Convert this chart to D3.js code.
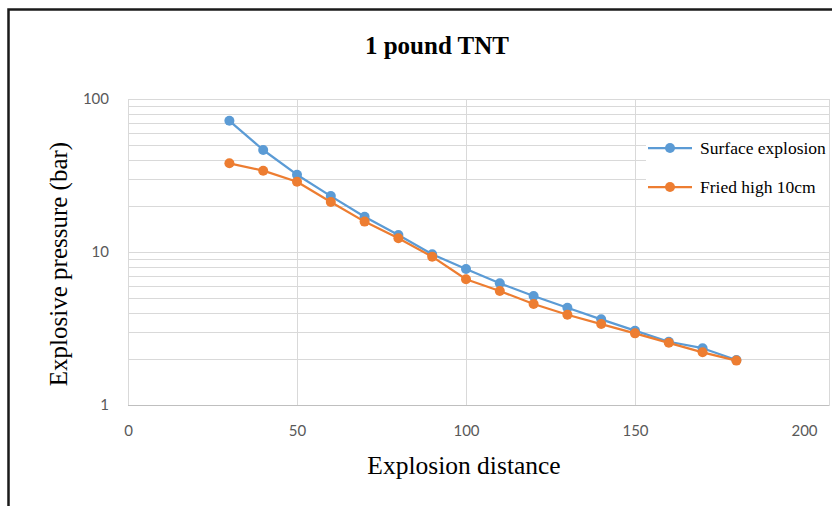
<!DOCTYPE html>
<html>
<head>
<meta charset="utf-8">
<script src="https://cdn.jsdelivr.net/npm/d3@7"></script>
<style>
  html, body { margin: 0; padding: 0; background: #fff; }
  svg { display: block; }
</style>
</head>
<body>
<svg id="chart" width="832" height="506"></svg>
<script>
// Blast pressure versus distance for a 1 lb TNT charge
const distances = [30, 40, 50, 60, 70, 80, 90, 100, 110, 120, 130, 140, 150, 160, 170, 180];
const surfaceExplosion = [72, 46.4, 32.0, 23.2, 17.0, 12.9, 9.66, 7.74, 6.24, 5.16, 4.32, 3.63, 3.06, 2.59, 2.35, 1.97];
const friedHigh10cm = [38.0, 34.0, 28.8, 21.2, 15.8, 12.3, 9.32, 6.63, 5.56, 4.57, 3.89, 3.38, 2.94, 2.55, 2.21, 1.95];
const seriesNames = ["Surface explosion", "Fried high 10cm"];
const seriesColors = ["#5b9bd5", "#ed7d31"];
const xTicks = [0, 50, 100, 150, 200];
const yTicks = [1, 10, 100];

const svg = d3.select("#chart");
const W = 832, H = 506;
const plot = { left: 128, right: 829, top: 99, bottom: 405 };
const serif = "'Liberation Serif', 'Times New Roman', serif";

svg.append("rect").attr("width", W).attr("height", H).attr("fill", "#fff");

// outer chart frame
svg.append("rect")
  .attr("x", 8.5).attr("y", 9.5)
  .attr("width", W + 20).attr("height", H + 20)
  .attr("fill", "none").attr("stroke", "#1a1a1a").attr("stroke-width", 2.5);

const x = d3.scaleLinear().domain([0, 200]).range([plot.left, 804]);
const y = d3.scaleLog().domain([1, 100]).range([plot.bottom, plot.top]);

const grid = svg.append("g");
// minor + major horizontal gridlines for the log axis
const minorVals = [];
for (let d = 1; d < 100; d *= 10) {
  for (let k = 2; k <= 10; k++) minorVals.push(d * k);
}
grid.selectAll("line.h").data(minorVals).join("line")
  .attr("class", "h")
  .attr("x1", plot.left).attr("x2", plot.right)
  .attr("y1", d => Math.round(y(d)) + 0.5).attr("y2", d => Math.round(y(d)) + 0.5)
  .attr("stroke", "#d9d9d9").attr("stroke-width", 1);

// vertical gridlines
grid.selectAll("line.v").data(xTicks.filter(t => t > 0 && t < 200)).join("line")
  .attr("class", "v")
  .attr("x1", d => Math.round(x(d)) + 0.5).attr("x2", d => Math.round(x(d)) + 0.5)
  .attr("y1", plot.top).attr("y2", plot.bottom)
  .attr("stroke", "#d9d9d9").attr("stroke-width", 1);

// plot area border
svg.append("rect")
  .attr("x", plot.left + 0.5).attr("y", plot.top + 0.5)
  .attr("width", plot.right - plot.left).attr("height", plot.bottom - plot.top)
  .attr("fill", "none").attr("stroke", "#d9d9d9");
svg.append("line")
  .attr("x1", plot.left).attr("x2", plot.right)
  .attr("y1", plot.bottom + 0.5).attr("y2", plot.bottom + 0.5)
  .attr("stroke", "#bfbfbf");

// axes (labels only)
const xAxis = d3.axisBottom(x).tickValues(xTicks).tickSize(0).tickPadding(20).tickFormat(d3.format("d"));
const gx = svg.append("g").attr("transform", `translate(0,${plot.bottom})`).call(xAxis);
gx.select(".domain").remove();
gx.selectAll("text").attr("fill", "#595959").style("font-family", "Lato, 'Open Sans', sans-serif").style("font-size", "15px");

const yAxis = d3.axisLeft(y).tickValues(yTicks).tickSize(0).tickPadding(19).tickFormat(d3.format("d"));
const gy = svg.append("g").attr("transform", `translate(${plot.left},0)`).call(yAxis);
gy.select(".domain").remove();
gy.selectAll("text").attr("fill", "#595959").style("font-family", "Lato, 'Open Sans', sans-serif").style("font-size", "15px");

// series
const series = [surfaceExplosion, friedHigh10cm];
const line = d3.line().x((d, i) => x(distances[i])).y(d => y(d));
series.forEach((vals, si) => {
  const g = svg.append("g");
  g.append("path").datum(vals)
    .attr("d", line)
    .attr("fill", "none").attr("stroke", seriesColors[si])
    .attr("stroke-width", 2.25).attr("stroke-linejoin", "round");
  g.selectAll("circle").data(vals).join("circle")
    .attr("cx", (d, i) => x(distances[i])).attr("cy", d => y(d))
    .attr("r", 5).attr("fill", seriesColors[si]);
});

// title and axis titles
svg.append("text").attr("x", 437).attr("y", 54).attr("text-anchor", "middle")
  .style("font-family", serif)
  .style("font-weight", "bold").style("font-size", "25px").attr("fill", "#000")
  .text("1 pound TNT");

svg.append("text").attr("x", 464).attr("y", 474).attr("text-anchor", "middle")
  .style("font-family", serif)
  .style("font-size", "25.5px").attr("fill", "#000")
  .text("Explosion distance");

svg.append("text")
  .attr("transform", "translate(67,264) rotate(-90)")
  .attr("text-anchor", "middle")
  .style("font-family", serif)
  .style("font-size", "25px").attr("fill", "#000")
  .text("Explosive pressure (bar)");

// legend
const legendRows = [148, 187];
seriesNames.forEach((name, i) => {
  const g = svg.append("g").attr("transform", `translate(646,${legendRows[i]})`);
  g.append("rect").attr("x", 0).attr("y", -13).attr("width", plot.right - 646).attr("height", 26).attr("fill", "#fff");
  g.append("line").attr("x1", 2).attr("x2", 46).attr("y1", 0).attr("y2", 0)
    .attr("stroke", seriesColors[i]).attr("stroke-width", 2.25);
  g.append("circle").attr("cx", 24).attr("cy", 0).attr("r", 5).attr("fill", seriesColors[i]);
  g.append("text").attr("x", 54).attr("y", 6)
    .style("font-family", serif)
    .style("font-size", "17.5px").attr("fill", "#000")
    .text(name);
});
</script>
</body>
</html>
